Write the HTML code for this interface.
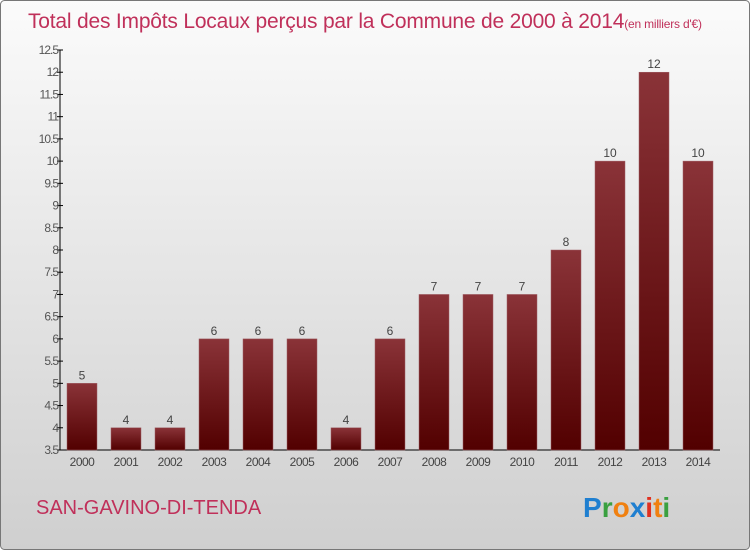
<!DOCTYPE html>
<html><head><meta charset="utf-8"><style>
html,body{margin:0;padding:0}
body{width:750px;height:550px;overflow:hidden;font-family:"Liberation Sans","DejaVu Sans",sans-serif}
</style></head><body>
<svg width="750" height="550" xmlns="http://www.w3.org/2000/svg">
<defs>
<linearGradient id="bg" x1="0" y1="0" x2="0" y2="1"><stop offset="0" stop-color="#fbfbfb"/><stop offset="1" stop-color="#cfcfcf"/></linearGradient>
<linearGradient id="bar" x1="0" y1="0" x2="0" y2="1"><stop offset="0" stop-color="#8a3338"/><stop offset="1" stop-color="#520000"/></linearGradient>
</defs>
<rect x="0.5" y="0.5" width="749" height="549" rx="4" fill="url(#bg)" stroke="#777"/>
<text x="28" y="28" font-size="21" fill="#c0305a" letter-spacing="-0.2">Total des Impôts Locaux perçus par la Commune de 2000 à 2014<tspan font-size="12">(en milliers d'€)</tspan></text>
<g id="axes"></g>
<g id="bars"></g>
<text x="36" y="514" font-size="20" fill="#c0305a">SAN-GAVINO-DI-TENDA</text>
<text x="583" y="517" font-size="28" font-weight="bold"><tspan fill="#1f7fd0">P</tspan><tspan fill="#3aa040">r</tspan><tspan fill="#f08010">o</tspan><tspan fill="#1f7fd0">x</tspan><tspan fill="#e03020">i</tspan><tspan fill="#f08010">t</tspan><tspan fill="#3aa040">i</tspan></text>
</svg>
<script>
const years=["2000","2001","2002","2003","2004","2005","2006","2007","2008","2009","2010","2011","2012","2013","2014"];
const values=[5,4,4,6,6,6,4,6,7,7,7,8,10,12,10];
const yTicks=[3.5,4,4.5,5,5.5,6,6.5,7,7.5,8,8.5,9,9.5,10,10.5,11,11.5,12,12.5];
const NS="http://www.w3.org/2000/svg";
const yMin=3.5,yMax=12.5,plotTop=50,plotBot=450,plotLeft=60;
const ys=v=>plotBot-(v-yMin)/(yMax-yMin)*(plotBot-plotTop);
const xc=i=>82+i*44;
function mk(t,a,p){const e=document.createElementNS(NS,t);for(const k in a)e.setAttribute(k,a[k]);p.appendChild(e);return e;}
const ax=document.getElementById('axes'),bg=document.getElementById('bars');
const yl=mk('line',{x1:plotLeft,y1:plotTop,x2:plotLeft,y2:plotBot,stroke:'#000'},ax);


const xl=mk('line',{x1:plotLeft,y1:plotBot,x2:720,y2:plotBot,stroke:'#000'},ax);


yTicks.forEach(v=>{
 mk('line',{x1:plotLeft-3,y1:ys(v),x2:plotLeft+3,y2:ys(v),stroke:'#000'},ax);
 const t=mk('text',{x:plotLeft-2,y:ys(v)+4,'font-size':12,fill:'#555','text-anchor':'end','letter-spacing':'-1'},ax);
 t.textContent=String(v);
 
 
});
years.forEach((y,i)=>{
 const v=values[i];
 const r=mk('rect',{x:xc(i)-15,y:ys(v),width:30,height:plotBot-ys(v),fill:'url(#bar)',stroke:'#a06066','stroke-width':0.5},bg);
 
 
 const l=mk('text',{x:xc(i),y:ys(v)-4,'font-size':12,fill:'#444','text-anchor':'middle'},bg);
 l.textContent=String(v);
 
 
 const xt=mk('text',{x:xc(i),y:466,'font-size':12,fill:'#444','text-anchor':'middle','letter-spacing':'-0.5'},ax);
 xt.textContent=y;
 
 
});
</script>
</body></html>
